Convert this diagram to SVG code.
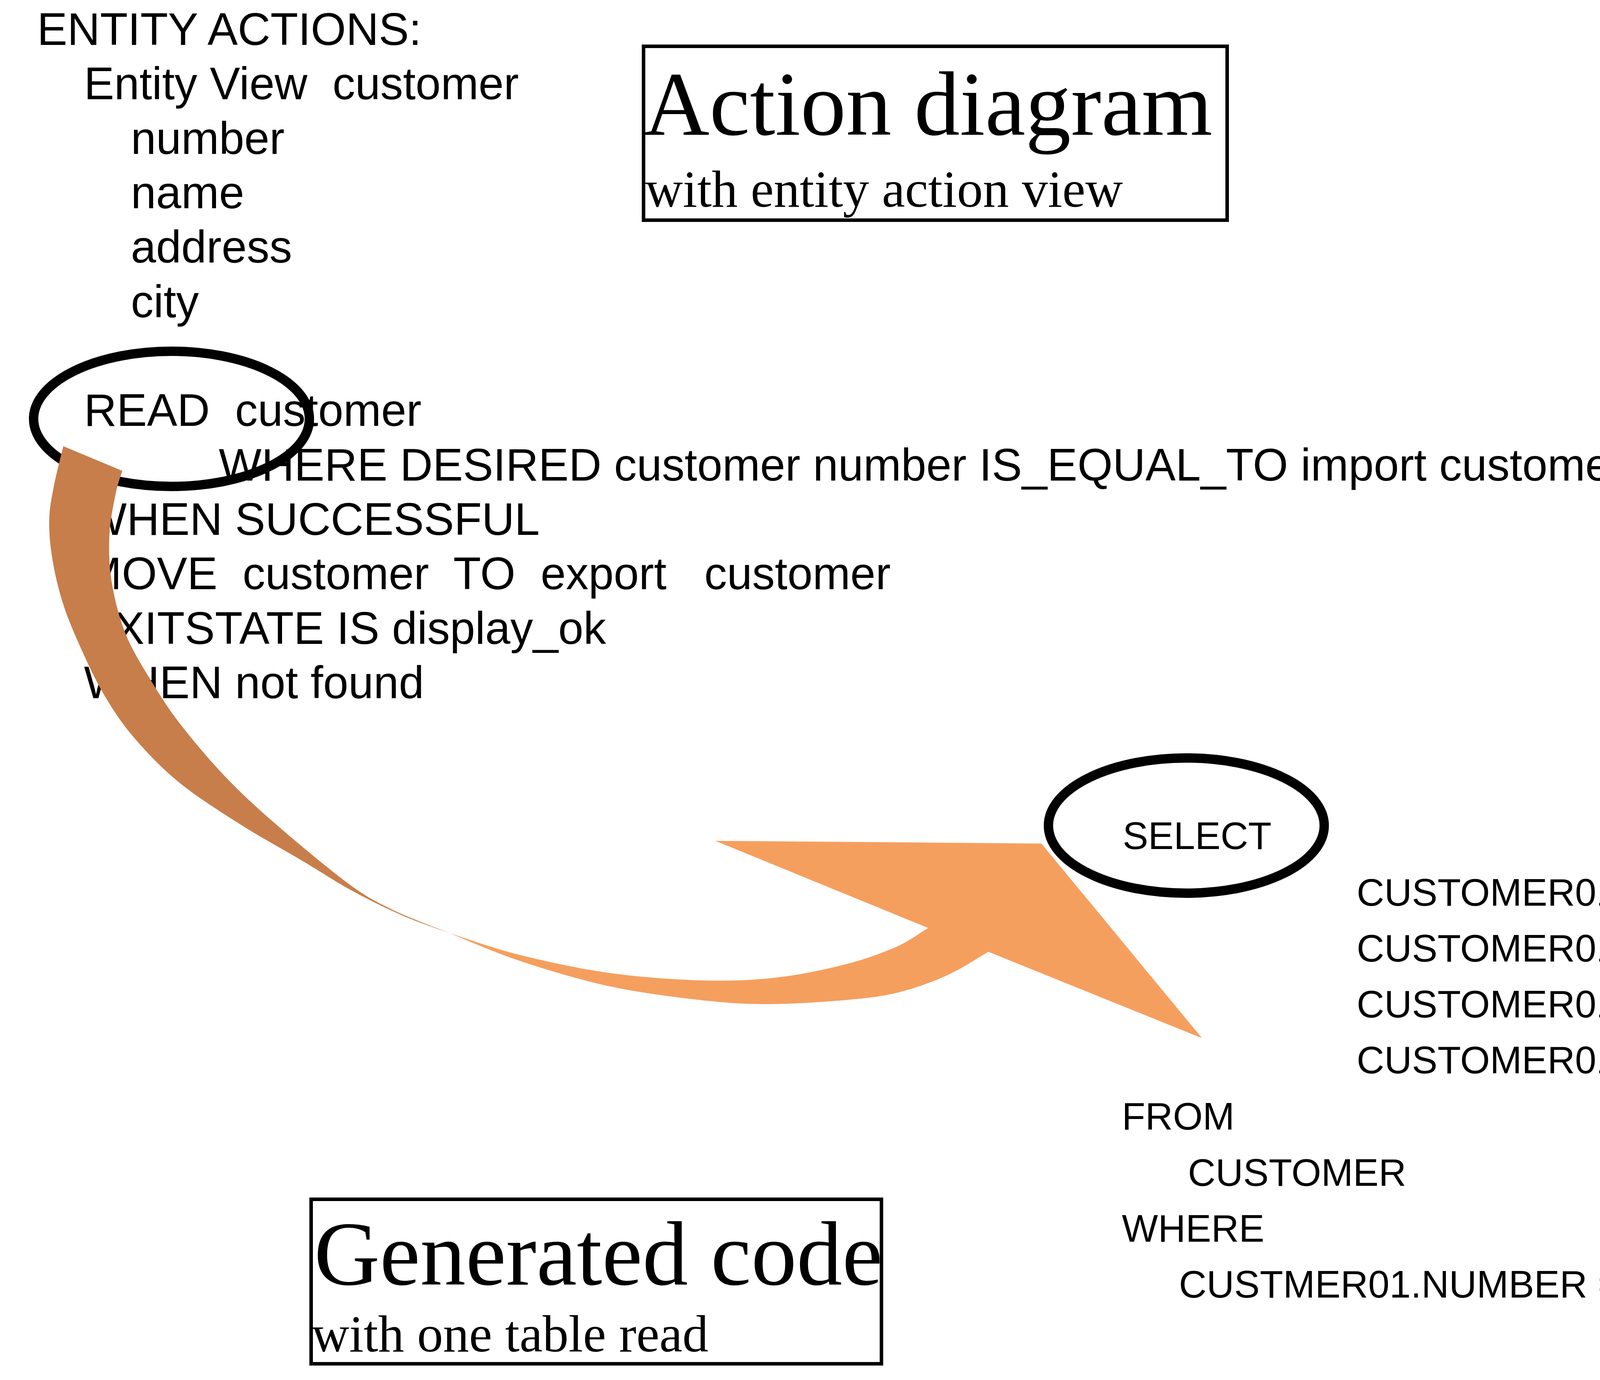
<svg xmlns="http://www.w3.org/2000/svg" width="5364" height="3532" viewBox="0 0 5364 3532">
  <style>
    .code { font-family: "Liberation Sans", Arial, sans-serif; font-size: 116px; fill: #000; white-space: pre; }
    .sql { font-family: "Liberation Sans", Arial, sans-serif; font-size: 98px; fill: #000; white-space: pre; }
    .title { font-family: "Liberation Serif", "Times New Roman", serif; font-size: 233px; fill: #000; }
    .sub { font-family: "Liberation Serif", "Times New Roman", serif; font-size: 133px; fill: #000; }
    .box { fill: none; stroke: #000; stroke-width: 9; }
    .ring { fill: none; stroke: #000; stroke-width: 24; }
    .back { fill: #C77E4B; }
    .front { fill: #F59F5F; }
  </style>
  <rect x="0" y="0" width="5364" height="3532" fill="#fff"/>

  <g id="entity-actions">
    <text class="code" x="95" y="115">ENTITY ACTIONS:</text>
    <text class="code" x="215" y="254">Entity View  customer</text>
    <text class="code" x="335" y="394">number</text>
    <text class="code" x="335" y="533">name</text>
    <text class="code" x="335" y="672">address</text>
    <text class="code" x="335" y="812">city</text>
    <text class="code" x="215" y="1090">READ  customer</text>
    <text class="code" x="560" y="1230">WHERE DESIRED customer number IS_EQUAL_TO import customer number</text>
    <text class="code" x="215" y="1369">WHEN SUCCESSFUL</text>
    <text class="code" x="215" y="1508">MOVE  customer  TO  export   customer</text>
    <text class="code" x="215" y="1648">EXITSTATE IS display_ok</text>
    <text class="code" x="215" y="1787">WHEN not found</text>
  </g>

  <g id="title-action-diagram">
    <rect class="box" x="1647.5" y="118.5" width="1494" height="445"/>
    <text class="title" x="1648" y="345">Action diagram</text>
    <text class="sub" x="1652" y="529">with entity action view</text>
  </g>

  <g id="sql-code">
    <text class="sql" x="2874" y="2173">SELECT</text>
    <text class="sql" x="3473" y="2318">CUSTOMER01.NUMBER</text>
    <text class="sql" x="3473" y="2461">CUSTOMER01.NAME</text>
    <text class="sql" x="3473" y="2604">CUSTOMER01.ADDRESS</text>
    <text class="sql" x="3473" y="2747">CUSTOMER01.CITY</text>
    <text class="sql" x="2872" y="2891">FROM</text>
    <text class="sql" x="3041" y="3035">CUSTOMER</text>
    <text class="sql" x="4675" y="3035">CUSTOMER01</text>
    <text class="sql" x="2872" y="3178">WHERE</text>
    <text class="sql" x="3018" y="3321">CUSTMER01.NUMBER = : number_001tp</text>
  </g>

  <g id="title-generated-code">
    <rect class="box" x="796.5" y="3069.5" width="1460" height="421"/>
    <text class="title" x="804" y="3288">Generated code</text>
    <text class="sub" x="798" y="3459">with one table read</text>
  </g>

  <g id="read-node">
    <ellipse class="ring" cx="439" cy="1072" rx="353" ry="173"/>
  </g>

  <g id="select-node">
    <ellipse class="ring" cx="3037" cy="2113" rx="353" ry="173"/>
  </g>

  <g id="connectors">
    <path class="back" d="M162,1142 L313,1205
      C310.2,1214.8 301.5,1236.5 296,1264
      C290.5,1291.5 281.7,1332.3 280,1370
      C278.3,1407.7 279.2,1448.2 286,1490
      C292.8,1531.8 304.8,1580 321,1621
      C337.2,1662 360,1697.8 383,1736
      C406,1774.2 427.2,1808.5 459,1850
      C490.8,1891.5 533.8,1942.7 574,1985
      C614.2,2027.3 647.2,2058 700,2104
      C752.8,2150 840,2223.5 891,2261
      C942,2298.5 962.8,2307.8 1006,2329
      C1049.2,2350.2 1126,2378.2 1150,2388
      C1130,2380.5 1071.7,2361.2 1030,2343
      C988.3,2324.8 942.2,2302 900,2279
      C857.8,2256 825,2233.5 777,2205
      C729,2176.5 665,2141.7 612,2108
      C559,2074.3 503.7,2039.5 459,2003
      C414.3,1966.5 375.8,1926 344,1889
      C312.2,1852 290.8,1819.3 268,1781
      C245.2,1742.7 224.8,1698.5 207,1659
      C189.2,1619.5 173.2,1582.2 161,1544
      C148.8,1505.8 139.8,1465.7 134,1430
      C128.2,1394.3 125.3,1361 126,1330
      C126.7,1299 132,1275.3 138,1244
      C144,1212.7 158,1159 162,1142 Z"/>
    <path class="front" d="M1150,2388
      C1180,2399.8 1261.8,2436.3 1330,2459
      C1398.2,2481.7 1482.5,2507.3 1559,2524
      C1635.5,2540.7 1721.3,2551.3 1789,2559
      C1856.7,2566.7 1901.3,2570 1965,2570
      C2028.7,2570 2115.2,2564 2171,2559
      C2226.8,2554 2257.7,2550.5 2300,2540
      C2342.3,2529.5 2386.7,2513.3 2425,2496
      C2463.3,2478.7 2512.5,2446 2530,2436
      L3077,2657 L2666,2159 L1831,2152 L2376,2375
      C2361.8,2383.3 2327.5,2409.2 2291,2425
      C2254.5,2440.8 2209,2457 2157,2470
      C2105,2483 2040.3,2496.5 1979,2503
      C1917.7,2509.5 1859,2511.2 1789,2509
      C1719,2506.8 1635.5,2500.8 1559,2490
      C1482.5,2479.2 1398.2,2461 1330,2444
      C1261.8,2427 1180,2397.3 1150,2388 Z"/>
  </g>
</svg>
